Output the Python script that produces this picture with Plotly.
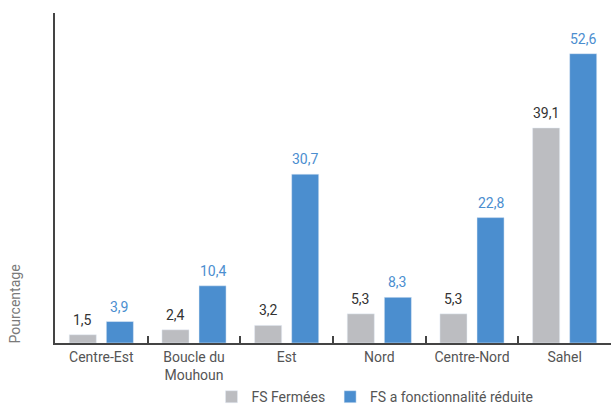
import plotly.graph_objects as go

regions = ["Centre-Est", "Boucle du<br>Mouhoun", "Est", "Nord", "Centre-Nord", "Sahel"]
fs_fermees = [1.5, 2.4, 3.2, 5.3, 5.3, 39.1]
fs_reduite = [3.9, 10.4, 30.7, 8.3, 22.8, 52.6]

GRAY = "#bcbdc1"
BLUE = "#4b8ecf"
FONT = "Roboto"

fig = go.Figure()
fig.add_bar(x=regions, y=fs_fermees, name="FS Fermées", marker_color=GRAY)
fig.add_bar(x=regions, y=fs_reduite, name="FS a fonctionnalité réduite", marker_color=BLUE)

def fmt(v):
    return f"{v:.1f}".replace(".", ",")

annotations = []
for cat, v in zip(regions, fs_fermees):
    annotations.append(dict(x=cat, y=v, xref="x", yref="y", text=fmt(v), showarrow=False,
                            xshift=-18.5, yanchor="bottom", yshift=5,
                            font=dict(family=FONT, size=14, color="#333333")))
for cat, v in zip(regions, fs_reduite):
    annotations.append(dict(x=cat, y=v, xref="x", yref="y", text=fmt(v), showarrow=False,
                            xshift=18.5, yanchor="bottom", yshift=5,
                            font=dict(family=FONT, size=14, color=BLUE)))
annotations.append(dict(x=-0.072, y=0, xref="paper", yref="paper", text="Pourcentage",
                        textangle=-90, showarrow=False, xanchor="center", yanchor="bottom",
                        yshift=-2, font=dict(family=FONT, size=14, color="#7a7a7a")))

fig.update_layout(
    width=611, height=408,
    margin=dict(l=55, r=0, t=13, b=65, autoexpand=False),
    paper_bgcolor="white", plot_bgcolor="white",
    barmode="group", bargap=0.20, bargroupgap=0.27,
    font=dict(family=FONT, size=14, color="#555555"),
    showlegend=True,
    legend=dict(orientation="h", x=0.5755, xanchor="center", y=-0.164, yanchor="middle",
                font=dict(family=FONT, size=14, color="#555555"), itemwidth=30),
    annotations=annotations,
)
fig.update_xaxes(showline=True, linecolor="#444444", linewidth=2, ticks="inside",
                 tickson="boundaries", ticklen=7, tickcolor="#444444", tickwidth=1.5,
                 showgrid=False, tickfont=dict(family=FONT, size=14, color="#555555"))
fig.update_yaxes(range=[0, 60], showline=True, linecolor="#444444", linewidth=2,
                 showticklabels=False, ticks="", showgrid=False, zeroline=False)

fig.write_html("out.html")
